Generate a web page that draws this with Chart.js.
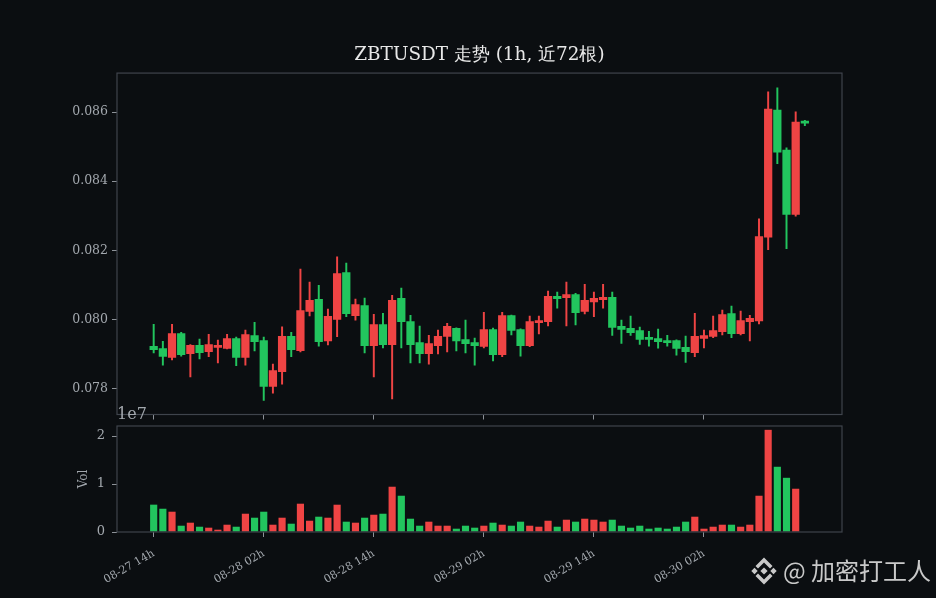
<!DOCTYPE html>
<html>
<head>
<meta charset="utf-8">
<script src="https://cdn.jsdelivr.net/npm/chart.js@4.4.1/dist/chart.umd.min.js"></script>
<style>
  html, body { margin: 0; padding: 0; background: #0b0e11; }
  #wrap { position: relative; width: 936px; height: 598px; overflow: hidden; }
  #priceChart { position: absolute; left: 0; top: 0; }
  #volChart { position: absolute; left: 0; top: 395px; }
</style>
</head>
<body>
<div id="wrap">
  <canvas id="priceChart" width="936" height="426"></canvas>
  <canvas id="volChart" width="936" height="203"></canvas>
</div>
<script>
// hourly candles, 08-27 14h .. 08-30 13h
const tickIdx = [0, 12, 24, 36, 48, 60];
const tickLabels = ['08-27 14h', '08-28 02h', '08-28 14h', '08-29 02h', '08-29 14h', '08-30 02h'];
const priceTicks = [0.078, 0.080, 0.082, 0.084, 0.086];
const volTicks = [0, 1e7, 2e7];

const opens = [
  0.07923, 0.07917, 0.07889, 0.07960, 0.07900, 0.07926, 0.07906, 0.07918, 0.07915, 0.07946,
  0.07889, 0.07954, 0.07940, 0.07805, 0.07848, 0.07952, 0.07909, 0.08022, 0.08059, 0.07937,
  0.07999, 0.08137, 0.08010, 0.08041, 0.07923, 0.07986, 0.07926, 0.08062, 0.07995, 0.07934,
  0.07900, 0.07923, 0.07950, 0.07975, 0.07943, 0.07934, 0.07921, 0.07972, 0.07897, 0.08012,
  0.07972, 0.07923, 0.07990, 0.07993, 0.08068, 0.08062, 0.08073, 0.08022, 0.08050, 0.08056,
  0.08065, 0.07981, 0.07975, 0.07969, 0.07949, 0.07946, 0.07940, 0.07940, 0.07920, 0.07903,
  0.07944, 0.07950, 0.07964, 0.08018, 0.07958, 0.07993, 0.07995, 0.08237, 0.08607, 0.08491,
  0.08303, 0.08575
];
const highs = [
  0.07986, 0.07937, 0.07986, 0.07963, 0.07927, 0.07943, 0.07957, 0.07940, 0.07957, 0.07949,
  0.07969, 0.07992, 0.07949, 0.07871, 0.07979, 0.07963, 0.08146, 0.08108, 0.08099, 0.08030,
  0.08181, 0.08163, 0.08059, 0.08062, 0.08015, 0.08018, 0.08070, 0.08091, 0.08012, 0.07981,
  0.07954, 0.07969, 0.07989, 0.07976, 0.07998, 0.07946, 0.08021, 0.07975, 0.08021, 0.08013,
  0.07973, 0.08010, 0.08010, 0.08082, 0.08079, 0.08108, 0.08076, 0.08102, 0.08079, 0.08102,
  0.08079, 0.07998, 0.08010, 0.07978, 0.07966, 0.07972, 0.07954, 0.07941, 0.07952, 0.08018,
  0.07969, 0.08010, 0.08027, 0.08039, 0.08024, 0.08012, 0.08291, 0.08659, 0.08670, 0.08497,
  0.08601, 0.08576
];
const lows = [
  0.07903, 0.07868, 0.07883, 0.07894, 0.07834, 0.07886, 0.07892, 0.07874, 0.07915, 0.07866,
  0.07868, 0.07909, 0.07766, 0.07787, 0.07813, 0.07892, 0.07906, 0.08010, 0.07923, 0.07926,
  0.07950, 0.08008, 0.07998, 0.07903, 0.07834, 0.07918, 0.07770, 0.07918, 0.07874, 0.07874,
  0.07871, 0.07900, 0.07906, 0.07909, 0.07903, 0.07868, 0.07918, 0.07880, 0.07892, 0.07955,
  0.07894, 0.07921, 0.07958, 0.07981, 0.08033, 0.07981, 0.07984, 0.08016, 0.08008, 0.08033,
  0.07954, 0.07931, 0.07954, 0.07928, 0.07923, 0.07917, 0.07923, 0.07897, 0.07876, 0.07892,
  0.07918, 0.07947, 0.07955, 0.07947, 0.07955, 0.07938, 0.07987, 0.08202, 0.08451, 0.08205,
  0.08299, 0.08561
];
const closes = [
  0.07912, 0.07892, 0.07960, 0.07897, 0.07926, 0.07903, 0.07928, 0.07926, 0.07946, 0.07889,
  0.07957, 0.07935, 0.07805, 0.07853, 0.07952, 0.07912, 0.08027, 0.08056, 0.07935, 0.08010,
  0.08134, 0.08016, 0.08044, 0.07923, 0.07986, 0.07926, 0.08056, 0.07993, 0.07926, 0.07900,
  0.07931, 0.07952, 0.07981, 0.07937, 0.07929, 0.07923, 0.07972, 0.07897, 0.08012, 0.07967,
  0.07923, 0.07995, 0.07998, 0.08068, 0.08059, 0.08073, 0.08019, 0.08056, 0.08062, 0.08065,
  0.07976, 0.07970, 0.07961, 0.07941, 0.07941, 0.07935, 0.07932, 0.07915, 0.07906, 0.07952,
  0.07954, 0.07969, 0.08015, 0.07958, 0.07998, 0.08004, 0.08241, 0.08610, 0.08483, 0.08303,
  0.08572, 0.08567
];
const volumes = [
  5700000, 4850000, 4230000, 1310000, 1940000, 1100000, 900000, 480000, 1520000, 1100000,
  3810000, 2980000, 4230000, 1520000, 2980000, 1730000, 5900000, 2350000, 3190000, 2980000,
  5690000, 2150000, 1940000, 2980000, 3600000, 3810000, 9440000, 7560000, 2770000, 1310000,
  2150000, 1310000, 1310000, 690000, 1310000, 900000, 1310000, 1940000, 1520000, 1310000,
  2150000, 1310000, 1100000, 2350000, 1100000, 2560000, 2150000, 2770000, 2560000, 2150000,
  2560000, 1310000, 900000, 1310000, 690000, 900000, 690000, 1100000, 2150000, 3190000,
  690000, 1100000, 1520000, 1520000, 1100000, 1520000, 7560000, 21300000, 13600000, 11300000,
  9020000, 100000
];

const UP = '#ef4444';
const DOWN = '#22c55e';
const FONT = '"DejaVu Serif", serif';
const TEXT = '#a3a8ae';
const TICK = '#8d9298';
const FRAME = '#3f444c';
const X_MIN = -4.0, X_MAX = 75.05;

const barColors = closes.map((c, i) => (c >= opens[i] ? UP : DOWN));
const bodies = opens.map((o, i) => ({ x: i, y: [o, closes[i]] }));
const wicks = lows.map((l, i) => ({ x: i, y: [l, highs[i]] }));
const volData = volumes.map((v, i) => ({ x: i, y: v }));

// box around each plot area
const frame = {
  id: 'frame',
  afterDraw(chart) {
    const a = chart.chartArea, ctx = chart.ctx;
    ctx.save();
    ctx.strokeStyle = FRAME;
    ctx.lineWidth = 1.2;
    ctx.strokeRect(a.left, a.top, a.right - a.left, a.bottom - a.top);
    ctx.restore();
  }
};

// offset label + watermark on the volume canvas
const volExtras = {
  id: 'volExtras',
  afterDraw(chart) {
    const a = chart.chartArea, ctx = chart.ctx;
    ctx.save();
    ctx.fillStyle = TEXT;
    ctx.font = '16px ' + FONT;
    ctx.textBaseline = 'alphabetic';
    ctx.fillText('1e7', a.left, a.top - 7);

    // watermark
    const cx = 764, cy = 176;
    ctx.fillStyle = 'rgba(222,222,222,0.9)';
    const diamond = (x, y, r) => {
      ctx.beginPath();
      ctx.moveTo(x, y - r); ctx.lineTo(x + r, y); ctx.lineTo(x, y + r); ctx.lineTo(x - r, y);
      ctx.closePath(); ctx.fill();
    };
    diamond(cx, cy, 3.6);
    diamond(cx - 9.5, cy, 3.2);
    diamond(cx + 9.5, cy, 3.2);
    [-1, 1].forEach(s => {
      ctx.beginPath();
      ctx.moveTo(cx, cy + s * 13.5);
      ctx.lineTo(cx + 8.5, cy + s * 5);
      ctx.lineTo(cx + 6, cy + s * 2.5);
      ctx.lineTo(cx, cy + s * 8.5);
      ctx.lineTo(cx - 6, cy + s * 2.5);
      ctx.lineTo(cx - 8.5, cy + s * 5);
      ctx.closePath(); ctx.fill();
    });
    ctx.font = '24px "Noto Sans CJK SC", "Noto Sans", sans-serif';
    ctx.textBaseline = 'middle';
    ctx.fillText('@ 加密打工人', 783, cy);
    ctx.restore();
  }
};

new Chart(document.getElementById('priceChart'), {
  type: 'bar',
  data: {
    datasets: [
      { data: bodies, backgroundColor: barColors, grouped: false, categoryPercentage: 1, barPercentage: 0.9, order: 0 },
      { data: wicks, backgroundColor: barColors, grouped: false, barThickness: 1.3, order: 1 }
    ]
  },
  options: {
    responsive: false,
    animation: false,
    layout: { padding: { left: 0, right: 94, top: 0, bottom: 0 } },
    plugins: {
      legend: { display: false },
      tooltip: { enabled: false },
      title: {
        display: true,
        text: 'ZBTUSDT 走势 (1h, 近72根)',
        color: '#e8e8e8',
        fullSize: false,
        font: { family: FONT, size: 18.4, weight: 'normal' },
        padding: { top: 44.5, bottom: 6.5 }
      }
    },
    scales: {
      x: {
        type: 'linear', min: X_MIN, max: X_MAX, offset: false,
        grid: { display: true, offset: false, drawOnChartArea: false, drawTicks: true, tickLength: 5, color: TICK },
        border: { display: false },
        ticks: { display: false },
        afterBuildTicks: s => { s.ticks = tickIdx.map(v => ({ value: v })); },
        afterFit: s => { s.height = 7; }
      },
      y: {
        min: 0.07725, max: 0.08713,
        grid: { display: true, drawOnChartArea: false, drawTicks: true, tickLength: 5, color: TICK },
        border: { display: false },
        ticks: { color: TEXT, font: { family: FONT, size: 12.5 }, padding: 4, callback: v => v.toFixed(3) },
        afterBuildTicks: s => { s.ticks = priceTicks.map(v => ({ value: v })); },
        afterFit: s => { s.width = 117; }
      }
    }
  },
  plugins: [frame]
});

new Chart(document.getElementById('volChart'), {
  type: 'bar',
  data: {
    datasets: [
      { data: volData, backgroundColor: barColors, categoryPercentage: 1, barPercentage: 0.78 }
    ]
  },
  options: {
    responsive: false,
    animation: false,
    layout: { padding: { left: 0, right: 94, top: 31, bottom: 0 } },
    plugins: { legend: { display: false }, tooltip: { enabled: false } },
    scales: {
      x: {
        type: 'linear', min: X_MIN, max: X_MAX, offset: false,
        grid: { display: true, offset: false, drawOnChartArea: false, drawTicks: true, tickLength: 5, color: TICK },
        border: { display: false },
        ticks: {
          color: TEXT, font: { family: FONT, size: 11 }, padding: 10,
          minRotation: 30, maxRotation: 30, autoSkip: false,
          callback: (v, i) => tickLabels[i]
        },
        afterBuildTicks: s => { s.ticks = tickIdx.map(v => ({ value: v })); },
        afterFit: s => { s.height = 66; }
      },
      y: {
        min: 0, max: 2.21e7,
        grid: { display: true, drawOnChartArea: false, drawTicks: true, tickLength: 5, color: TICK },
        border: { display: false },
        title: { display: true, text: 'Vol', color: TEXT, font: { family: FONT, size: 12 }, padding: { top: 77, bottom: 0 } },
        ticks: { color: TEXT, font: { family: FONT, size: 13 }, padding: 7, callback: v => String(v / 1e7) },
        afterBuildTicks: s => { s.ticks = volTicks.map(v => ({ value: v })); },
        afterFit: s => { s.width = 117; }
      }
    }
  },
  plugins: [frame, volExtras]
});
</script>
</body>
</html>
